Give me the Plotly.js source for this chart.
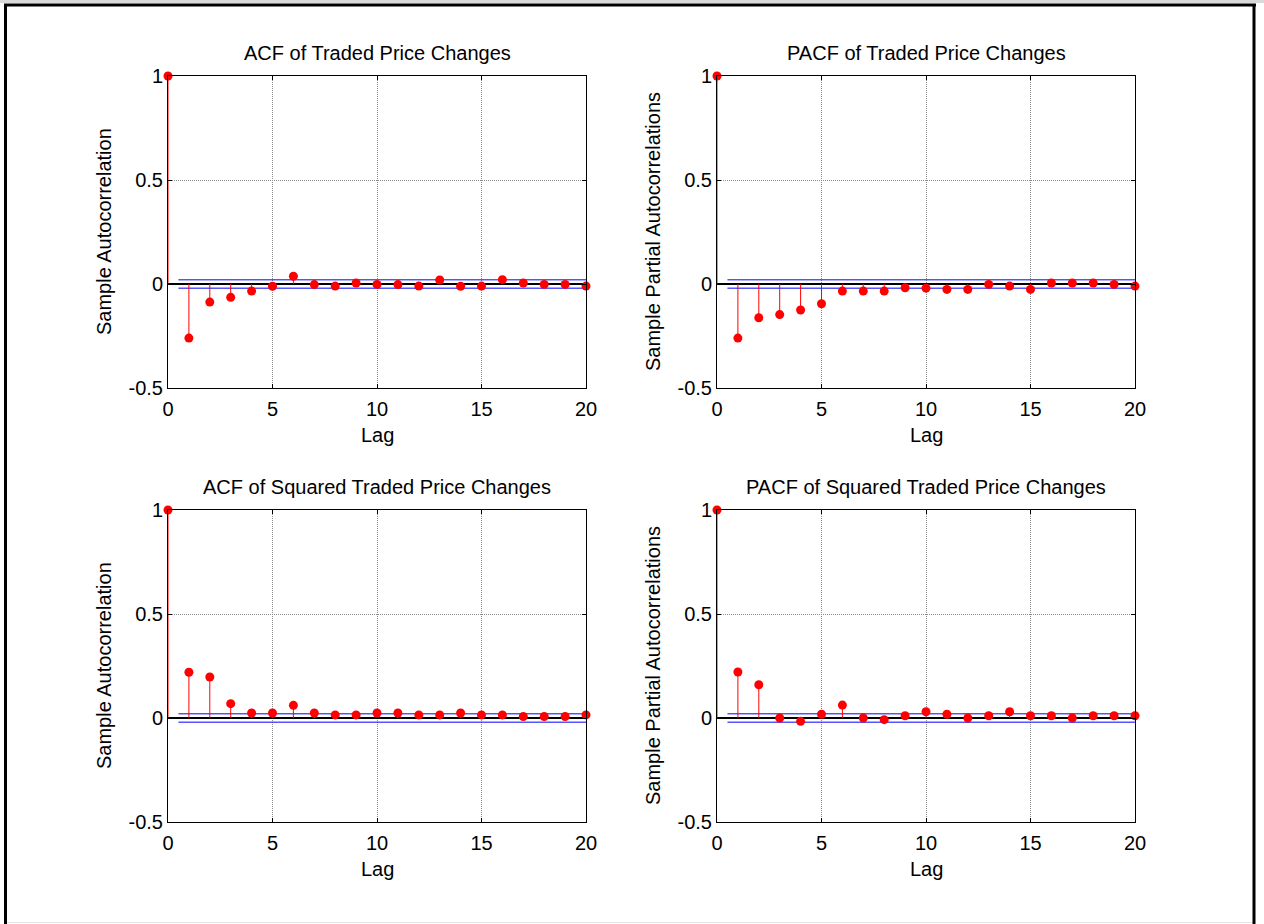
<!DOCTYPE html>
<html>
<head>
<meta charset="utf-8">
<script src="https://cdn.plot.ly/plotly-3.0.1.min.js"></script>
<style>
  html, body { margin: 0; padding: 0; background: #ffffff; }
  #chart { width: 1264px; height: 924px; }
</style>
</head>
<body>
<div id="chart"></div>
<script>
// ---- data ----
const lags = [0, 1, 2, 3, 4, 5, 6, 7, 8, 9, 10, 11, 12, 13, 14, 15, 16, 17, 18, 19, 20];
const acfTraded   = [1, -0.26, -0.087, -0.064, -0.034, -0.011, 0.037, -0.003, -0.010, 0.005, -0.002, -0.003, -0.010, 0.019, -0.011, -0.010, 0.021, 0.005, -0.002, -0.002, -0.010];
const pacfTraded  = [1, -0.26, -0.162, -0.147, -0.125, -0.095, -0.034, -0.034, -0.034, -0.018, -0.020, -0.026, -0.026, -0.002, -0.010, -0.026, 0.005, 0.005, 0.005, -0.002, -0.010];
const acfSquared  = [1, 0.220, 0.197, 0.069, 0.024, 0.024, 0.061, 0.024, 0.015, 0.015, 0.024, 0.024, 0.015, 0.015, 0.024, 0.015, 0.015, 0.007, 0.007, 0.007, 0.015];
const pacfSquared = [1, 0.221, 0.160, 0.000, -0.016, 0.018, 0.062, 0.000, -0.008, 0.011, 0.030, 0.018, 0.000, 0.011, 0.030, 0.011, 0.011, 0.000, 0.011, 0.011, 0.011];
const boundTraded  = 0.02;
const boundSquared = 0.02;
const boundLagRange = [0.5, 20];

const panelTitles = [
  "ACF of Traded Price Changes",
  "PACF of Traded Price Changes",
  "ACF of Squared Traded Price Changes",
  "PACF of Squared Traded Price Changes"
];
const yTitles = [
  "Sample Autocorrelation",
  "Sample Partial Autocorrelations",
  "Sample Autocorrelation",
  "Sample Partial Autocorrelations"
];
const xTitle = "Lag";
const yTickVals = [-0.5, 0, 0.5, 1];
const yTickText = ["-0.5", "0", "0.5", "1"];
const xTickVals = [0, 5, 10, 15, 20];
const xTickText = ["0", "5", "10", "15", "20"];

// ---- layout geometry (pixels) ----
const W = 1264, H = 924;
const FONT = "Liberation Sans, Arial, Helvetica, sans-serif";
const panels = [
  {series: acfTraded,   bound: boundTraded,  left: 168, right: 586,  top: 76,  bottom: 388},
  {series: pacfTraded,  bound: boundTraded,  left: 717, right: 1135, top: 76,  bottom: 388},
  {series: acfSquared,  bound: boundSquared, left: 168, right: 586,  top: 510, bottom: 822},
  {series: pacfSquared, bound: boundSquared, left: 717, right: 1135, top: 510, bottom: 822}
];
const px = x => x / W;
const py = y => 1 - y / H;

const traces = [];
const layout = {
  width: W, height: H,
  margin: {l: 0, r: 0, t: 0, b: 0},
  paper_bgcolor: "#ffffff",
  plot_bgcolor: "#ffffff",
  showlegend: false,
  font: {family: FONT, size: 20, color: "#000000"},
  annotations: [],
  shapes: []
};

panels.forEach((p, i) => {
  const n = i + 1;
  const xa = "x" + (n === 1 ? "" : n);
  const ya = "y" + (n === 1 ? "" : n);
  const xkey = "xaxis" + (n === 1 ? "" : n);
  const ykey = "yaxis" + (n === 1 ? "" : n);

  // stems built from the data arrays
  const sx = [], sy = [];
  lags.forEach((k, j) => { sx.push(k, k, null); sy.push(0, p.series[j], null); });

  // confidence bounds
  traces.push({x: boundLagRange, y: [p.bound, p.bound], xaxis: xa, yaxis: ya, mode: "lines",
    line: {color: "#0000ff", width: 1}, hoverinfo: "skip", cliponaxis: false});
  traces.push({x: boundLagRange, y: [-p.bound, -p.bound], xaxis: xa, yaxis: ya, mode: "lines",
    line: {color: "#0000ff", width: 1}, hoverinfo: "skip", cliponaxis: false});
  // stems
  traces.push({x: sx, y: sy, xaxis: xa, yaxis: ya, mode: "lines",
    line: {color: "#ff0000", width: 1}, hoverinfo: "skip", cliponaxis: false});
  // markers
  traces.push({x: lags, y: p.series, xaxis: xa, yaxis: ya, mode: "markers",
    marker: {color: "#ff0000", size: 9}, cliponaxis: false});

  layout[xkey] = {
    domain: [px(p.left), px(p.right)], anchor: ya, range: [0, 20],
    tickvals: xTickVals, ticktext: xTickText,
    ticks: "inside", ticklen: 4, tickcolor: "#000000", tickwidth: 1,
    ticklabelstandoff: 3,
    showline: true, linecolor: "#000000", linewidth: 1, mirror: "allticks",
    showgrid: true, gridcolor: "#8c8c8c", gridwidth: 1, griddash: "1px,1px",
    zeroline: false, tickfont: {family: FONT, size: 20, color: "#000000"},
    fixedrange: true
  };
  layout[ykey] = {
    domain: [py(p.bottom), py(p.top)], anchor: xa, range: [-0.5, 1],
    tickvals: yTickVals, ticktext: yTickText,
    ticks: "inside", ticklen: 4, tickcolor: "#000000", tickwidth: 1,
    showline: true, linecolor: "#000000", linewidth: 1, mirror: "allticks",
    showgrid: true, gridcolor: "#8c8c8c", gridwidth: 1, griddash: "1px,1px",
    zeroline: true, zerolinecolor: "#000000", zerolinewidth: 1.5,
    tickfont: {family: FONT, size: 20, color: "#000000"},
    fixedrange: true
  };

  const cx = (p.left + p.right) / 2;
  layout.annotations.push({text: panelTitles[i], xref: "paper", yref: "paper",
    x: px(cx), y: py(p.top - 23), xanchor: "center", yanchor: "middle", showarrow: false,
    font: {family: FONT, size: 20, color: "#000000"}});
  layout.annotations.push({text: xTitle, xref: "paper", yref: "paper",
    x: px(cx), y: py(p.bottom + 47), xanchor: "center", yanchor: "middle", showarrow: false,
    font: {family: FONT, size: 20, color: "#000000"}});
  layout.annotations.push({text: yTitles[i], xref: "paper", yref: "paper", textangle: -90,
    x: px(p.left - 64), y: py((p.top + p.bottom) / 2), xanchor: "center", yanchor: "middle", showarrow: false,
    font: {family: FONT, size: 20, color: "#000000"}});
});

// figure frame
layout.shapes.push({type: "line", xref: "paper", yref: "paper", x0: 0, x1: 1, y0: py(1.5), y1: py(1.5),
  line: {color: "#d9d9d9", width: 3}});
layout.shapes.push({type: "line", xref: "paper", yref: "paper", x0: px(5), x1: px(1255), y0: py(922.5), y1: py(922.5),
  line: {color: "#e3e3e3", width: 1}});
layout.shapes.push({type: "line", xref: "paper", yref: "paper", x0: px(4), x1: px(1256), y0: py(5), y1: py(5),
  line: {color: "#000000", width: 3}});
layout.shapes.push({type: "line", xref: "paper", yref: "paper", x0: px(5.5), x1: px(5.5), y0: py(4), y1: py(924),
  line: {color: "#000000", width: 3}});
layout.shapes.push({type: "line", xref: "paper", yref: "paper", x0: px(1254), x1: px(1254), y0: py(4), y1: py(924),
  line: {color: "#000000", width: 3}});

Plotly.newPlot("chart", traces, layout, {displayModeBar: false, staticPlot: true});
</script>
</body>
</html>
